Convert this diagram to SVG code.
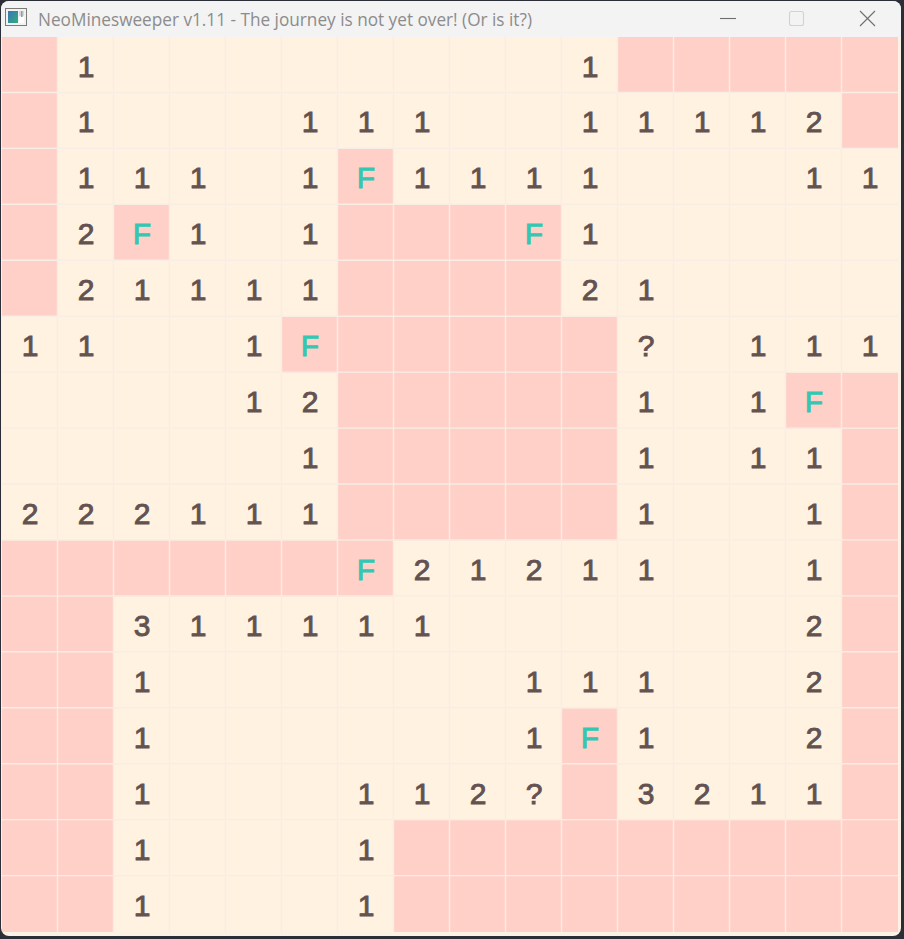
<svg xmlns="http://www.w3.org/2000/svg" width="904" height="939" viewBox="0 0 904 939">
<defs>
<style>
.p{fill:#ffd0c8}
.n{font-family:"Liberation Sans","DejaVu Sans",sans-serif;font-size:30px;fill:#635250;stroke:#635250;stroke-width:0.9;text-anchor:middle}
.f{font-family:"Liberation Sans","DejaVu Sans",sans-serif;font-size:30px;fill:#33c8b2;stroke:#33c8b2;stroke-width:0.9;text-anchor:middle}
.gl{stroke:#f8ede5;stroke-width:1.4}
.ctl{stroke:#6e6e6e;stroke-width:1.1;fill:none}
</style>
<linearGradient id="ig" x1="0" y1="0" x2="1" y2="1">
<stop offset="0" stop-color="#3a74b8"/>
<stop offset="1" stop-color="#2fae7c"/>
</linearGradient>
</defs>
<rect width="904" height="939" fill="#2b2e36"/>
<g id="window">
<rect x="1" y="1" width="900" height="935" rx="8" fill="#fbf1e4"/>
<path d="M1 37 V9 A8 8 0 0 1 9 1 H893 A8 8 0 0 1 901 9 V37 Z" fill="#f3f3f3"/>
</g>
<g id="titlebar">
<rect x="5.5" y="8.5" width="21" height="17" fill="#f2f2f2" stroke="#7a7a7a" stroke-width="1"/>
<rect x="8" y="11" width="10" height="12" fill="url(#ig)"/>
<rect x="19" y="11" width="5" height="5" fill="#d8d8d8"/>
<rect x="19" y="17" width="5" height="6" fill="#ffffff"/>
<rect x="21" y="11" width="1.5" height="6" fill="#9a9a9a"/>
<text x="38" y="26" font-family="'Open Sans','Liberation Sans',sans-serif" font-size="18" fill="#8c8c8c" textLength="494" lengthAdjust="spacingAndGlyphs">NeoMinesweeper v1.11 - The journey is not yet over! (Or is it?)</text>
<line class="ctl" x1="720" y1="18.5" x2="736" y2="18.5"/>
<rect x="789.5" y="11.5" width="14" height="14" rx="2" fill="none" stroke="#d2d2d2" stroke-width="1.1"/>
<line class="ctl" x1="860" y1="11" x2="875" y2="26"/>
<line class="ctl" x1="875" y1="11" x2="860" y2="26"/>
</g>
<g id="board">
<rect x="2" y="37" width="896" height="895" fill="#fff2e0"/>
<g id="hidden">
<rect class="p" x="2" y="37" width="56" height="55.94"/>
<rect class="p" x="618" y="37" width="280" height="55.94"/>
<rect class="p" x="2" y="92.94" width="56" height="55.94"/>
<rect class="p" x="842" y="92.94" width="56" height="55.94"/>
<rect class="p" x="2" y="148.88" width="56" height="55.94"/>
<rect class="p" x="338" y="148.88" width="56" height="55.94"/>
<rect class="p" x="2" y="204.81" width="56" height="55.94"/>
<rect class="p" x="114" y="204.81" width="56" height="55.94"/>
<rect class="p" x="338" y="204.81" width="224" height="55.94"/>
<rect class="p" x="2" y="260.75" width="56" height="55.94"/>
<rect class="p" x="338" y="260.75" width="224" height="55.94"/>
<rect class="p" x="282" y="316.69" width="336" height="55.94"/>
<rect class="p" x="338" y="372.63" width="280" height="167.81"/>
<rect class="p" x="786" y="372.63" width="112" height="55.94"/>
<rect class="p" x="842" y="428.56" width="56" height="503.44"/>
<rect class="p" x="2" y="540.44" width="392" height="55.94"/>
<rect class="p" x="2" y="596.38" width="112" height="335.62"/>
<rect class="p" x="562" y="708.25" width="56" height="111.88"/>
<rect class="p" x="394" y="820.13" width="504" height="111.87"/>
</g>
<g id="gridlines">
<line class="gl" x1="57.5" y1="37" x2="57.5" y2="932"/>
<line class="gl" x1="113.5" y1="37" x2="113.5" y2="932"/>
<line class="gl" x1="169.5" y1="37" x2="169.5" y2="932"/>
<line class="gl" x1="225.5" y1="37" x2="225.5" y2="932"/>
<line class="gl" x1="281.5" y1="37" x2="281.5" y2="932"/>
<line class="gl" x1="337.5" y1="37" x2="337.5" y2="932"/>
<line class="gl" x1="393.5" y1="37" x2="393.5" y2="932"/>
<line class="gl" x1="449.5" y1="37" x2="449.5" y2="932"/>
<line class="gl" x1="505.5" y1="37" x2="505.5" y2="932"/>
<line class="gl" x1="561.5" y1="37" x2="561.5" y2="932"/>
<line class="gl" x1="617.5" y1="37" x2="617.5" y2="932"/>
<line class="gl" x1="673.5" y1="37" x2="673.5" y2="932"/>
<line class="gl" x1="729.5" y1="37" x2="729.5" y2="932"/>
<line class="gl" x1="785.5" y1="37" x2="785.5" y2="932"/>
<line class="gl" x1="841.5" y1="37" x2="841.5" y2="932"/>
<line class="gl" x1="2" y1="92.5" x2="898" y2="92.5"/>
<line class="gl" x1="2" y1="148.4" x2="898" y2="148.4"/>
<line class="gl" x1="2" y1="204.3" x2="898" y2="204.3"/>
<line class="gl" x1="2" y1="260.3" x2="898" y2="260.3"/>
<line class="gl" x1="2" y1="316.2" x2="898" y2="316.2"/>
<line class="gl" x1="2" y1="372.1" x2="898" y2="372.1"/>
<line class="gl" x1="2" y1="428.1" x2="898" y2="428.1"/>
<line class="gl" x1="2" y1="484" x2="898" y2="484"/>
<line class="gl" x1="2" y1="539.9" x2="898" y2="539.9"/>
<line class="gl" x1="2" y1="595.9" x2="898" y2="595.9"/>
<line class="gl" x1="2" y1="651.8" x2="898" y2="651.8"/>
<line class="gl" x1="2" y1="707.8" x2="898" y2="707.8"/>
<line class="gl" x1="2" y1="763.7" x2="898" y2="763.7"/>
<line class="gl" x1="2" y1="819.6" x2="898" y2="819.6"/>
<line class="gl" x1="2" y1="875.6" x2="898" y2="875.6"/>
</g>
<g id="row0"><text class="n" x="86" y="76.5">1</text><text class="n" x="590" y="76.5">1</text></g>
<g id="row1"><text class="n" x="86" y="132.4">1</text><text class="n" x="310" y="132.4">1</text><text class="n" x="366" y="132.4">1</text><text class="n" x="422" y="132.4">1</text><text class="n" x="590" y="132.4">1</text><text class="n" x="646" y="132.4">1</text><text class="n" x="702" y="132.4">1</text><text class="n" x="758" y="132.4">1</text><text class="n" x="814" y="132.4">2</text></g>
<g id="row2"><text class="n" x="86" y="188.4">1</text><text class="n" x="142" y="188.4">1</text><text class="n" x="198" y="188.4">1</text><text class="n" x="310" y="188.4">1</text><text class="f" x="366" y="188.4">F</text><text class="n" x="422" y="188.4">1</text><text class="n" x="478" y="188.4">1</text><text class="n" x="534" y="188.4">1</text><text class="n" x="590" y="188.4">1</text><text class="n" x="814" y="188.4">1</text><text class="n" x="870" y="188.4">1</text></g>
<g id="row3"><text class="n" x="86" y="244.3">2</text><text class="f" x="142" y="244.3">F</text><text class="n" x="198" y="244.3">1</text><text class="n" x="310" y="244.3">1</text><text class="f" x="534" y="244.3">F</text><text class="n" x="590" y="244.3">1</text></g>
<g id="row4"><text class="n" x="86" y="300.3">2</text><text class="n" x="142" y="300.3">1</text><text class="n" x="198" y="300.3">1</text><text class="n" x="254" y="300.3">1</text><text class="n" x="310" y="300.3">1</text><text class="n" x="590" y="300.3">2</text><text class="n" x="646" y="300.3">1</text></g>
<g id="row5"><text class="n" x="30" y="356.2">1</text><text class="n" x="86" y="356.2">1</text><text class="n" x="254" y="356.2">1</text><text class="f" x="310" y="356.2">F</text><text class="n" x="646" y="356.2">?</text><text class="n" x="758" y="356.2">1</text><text class="n" x="814" y="356.2">1</text><text class="n" x="870" y="356.2">1</text></g>
<g id="row6"><text class="n" x="254" y="412.1">1</text><text class="n" x="310" y="412.1">2</text><text class="n" x="646" y="412.1">1</text><text class="n" x="758" y="412.1">1</text><text class="f" x="814" y="412.1">F</text></g>
<g id="row7"><text class="n" x="310" y="468.1">1</text><text class="n" x="646" y="468.1">1</text><text class="n" x="758" y="468.1">1</text><text class="n" x="814" y="468.1">1</text></g>
<g id="row8"><text class="n" x="30" y="524">2</text><text class="n" x="86" y="524">2</text><text class="n" x="142" y="524">2</text><text class="n" x="198" y="524">1</text><text class="n" x="254" y="524">1</text><text class="n" x="310" y="524">1</text><text class="n" x="646" y="524">1</text><text class="n" x="814" y="524">1</text></g>
<g id="row9"><text class="f" x="366" y="579.9">F</text><text class="n" x="422" y="579.9">2</text><text class="n" x="478" y="579.9">1</text><text class="n" x="534" y="579.9">2</text><text class="n" x="590" y="579.9">1</text><text class="n" x="646" y="579.9">1</text><text class="n" x="814" y="579.9">1</text></g>
<g id="row10"><text class="n" x="142" y="635.9">3</text><text class="n" x="198" y="635.9">1</text><text class="n" x="254" y="635.9">1</text><text class="n" x="310" y="635.9">1</text><text class="n" x="366" y="635.9">1</text><text class="n" x="422" y="635.9">1</text><text class="n" x="814" y="635.9">2</text></g>
<g id="row11"><text class="n" x="142" y="691.8">1</text><text class="n" x="534" y="691.8">1</text><text class="n" x="590" y="691.8">1</text><text class="n" x="646" y="691.8">1</text><text class="n" x="814" y="691.8">2</text></g>
<g id="row12"><text class="n" x="142" y="747.8">1</text><text class="n" x="534" y="747.8">1</text><text class="f" x="590" y="747.8">F</text><text class="n" x="646" y="747.8">1</text><text class="n" x="814" y="747.8">2</text></g>
<g id="row13"><text class="n" x="142" y="803.7">1</text><text class="n" x="366" y="803.7">1</text><text class="n" x="422" y="803.7">1</text><text class="n" x="478" y="803.7">2</text><text class="n" x="534" y="803.7">?</text><text class="n" x="646" y="803.7">3</text><text class="n" x="702" y="803.7">2</text><text class="n" x="758" y="803.7">1</text><text class="n" x="814" y="803.7">1</text></g>
<g id="row14"><text class="n" x="142" y="859.6">1</text><text class="n" x="366" y="859.6">1</text></g>
<g id="row15"><text class="n" x="142" y="915.6">1</text><text class="n" x="366" y="915.6">1</text></g>
</g>
</svg>
